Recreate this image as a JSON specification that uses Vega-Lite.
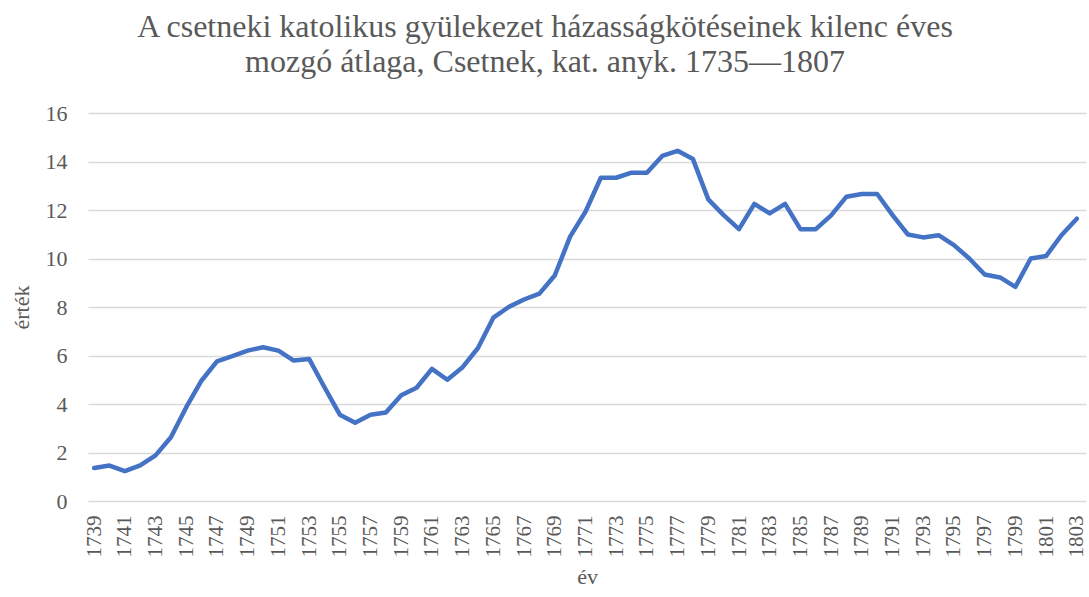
{
  "$schema": "https://vega.github.io/schema/vega-lite/v6.json",
  "autosize": {"type": "none"},
  "width": 998,
  "height": 388,
  "padding": {"left": 88, "top": 113, "right": 3, "bottom": 96},
  "background": "white",
  "title": {
    "text": ["A csetneki katolikus gyülekezet házasságkötéseinek kilenc éves", "mozgó átlaga, Csetnek, kat. anyk. 1735—1807"],
    "anchor": "middle",
    "dx": -42,
    "offset": 23,
    "font": "Liberation Serif",
    "fontSize": 32,
    "fontWeight": "normal",
    "color": "#595959",
    "lineHeight": 35
  },
  "config": {
    "view": {"stroke": null},
    "axis": {
      "labelFont": "Liberation Serif",
      "titleFont": "Liberation Serif",
      "labelColor": "#595959",
      "titleColor": "#595959",
      "labelFontSize": 22,
      "titleFontSize": 22,
      "titleFontWeight": "normal",
      "gridColor": "#D9D9D9",
      "gridWidth": 1.5,
      "ticks": false,
      "domain": false
    }
  },
  "data": {
    "values": [
      {"ev": 1739, "ertek": 1.36},
      {"ev": 1740, "ertek": 1.46},
      {"ev": 1741, "ertek": 1.23},
      {"ev": 1742, "ertek": 1.47},
      {"ev": 1743, "ertek": 1.88},
      {"ev": 1744, "ertek": 2.63},
      {"ev": 1745, "ertek": 3.87},
      {"ev": 1746, "ertek": 4.97},
      {"ev": 1747, "ertek": 5.76},
      {"ev": 1748, "ertek": 5.97},
      {"ev": 1749, "ertek": 6.2},
      {"ev": 1750, "ertek": 6.34},
      {"ev": 1751, "ertek": 6.2},
      {"ev": 1752, "ertek": 5.79},
      {"ev": 1753, "ertek": 5.86},
      {"ev": 1754, "ertek": 4.69},
      {"ev": 1755, "ertek": 3.56},
      {"ev": 1756, "ertek": 3.23},
      {"ev": 1757, "ertek": 3.56},
      {"ev": 1758, "ertek": 3.65},
      {"ev": 1759, "ertek": 4.36},
      {"ev": 1760, "ertek": 4.67},
      {"ev": 1761, "ertek": 5.45},
      {"ev": 1762, "ertek": 5.0},
      {"ev": 1763, "ertek": 5.52},
      {"ev": 1764, "ertek": 6.31},
      {"ev": 1765, "ertek": 7.56},
      {"ev": 1766, "ertek": 8.0},
      {"ev": 1767, "ertek": 8.31},
      {"ev": 1768, "ertek": 8.55},
      {"ev": 1769, "ertek": 9.3},
      {"ev": 1770, "ertek": 10.9},
      {"ev": 1771, "ertek": 11.93},
      {"ev": 1772, "ertek": 13.33},
      {"ev": 1773, "ertek": 13.33},
      {"ev": 1774, "ertek": 13.54},
      {"ev": 1775, "ertek": 13.54},
      {"ev": 1776, "ertek": 14.23},
      {"ev": 1777, "ertek": 14.44},
      {"ev": 1778, "ertek": 14.1},
      {"ev": 1779, "ertek": 12.44},
      {"ev": 1780, "ertek": 11.79},
      {"ev": 1781, "ertek": 11.21},
      {"ev": 1782, "ertek": 12.25},
      {"ev": 1783, "ertek": 11.86},
      {"ev": 1784, "ertek": 12.25},
      {"ev": 1785, "ertek": 11.21},
      {"ev": 1786, "ertek": 11.21},
      {"ev": 1787, "ertek": 11.78},
      {"ev": 1788, "ertek": 12.55},
      {"ev": 1789, "ertek": 12.66},
      {"ev": 1790, "ertek": 12.66},
      {"ev": 1791, "ertek": 11.79},
      {"ev": 1792, "ertek": 10.99},
      {"ev": 1793, "ertek": 10.87},
      {"ev": 1794, "ertek": 10.96},
      {"ev": 1795, "ertek": 10.55},
      {"ev": 1796, "ertek": 10.0},
      {"ev": 1797, "ertek": 9.34},
      {"ev": 1798, "ertek": 9.22},
      {"ev": 1799, "ertek": 8.83},
      {"ev": 1800, "ertek": 10.0},
      {"ev": 1801, "ertek": 10.1},
      {"ev": 1802, "ertek": 10.96},
      {"ev": 1803, "ertek": 11.64}
    ]
  },
  "mark": {"type": "line", "color": "#4472C4", "strokeWidth": 4.5, "strokeCap": "round", "strokeJoin": "round"},
  "encoding": {
    "x": {
      "field": "ev",
      "type": "quantitative",
      "title": "év",
      "scale": {"domain": [1738.6, 1803.6], "nice": false, "zero": false},
      "axis": {
        "values": [1739, 1741, 1743, 1745, 1747, 1749, 1751, 1753, 1755, 1757, 1759, 1761, 1763, 1765, 1767, 1769, 1771, 1773, 1775, 1777, 1779, 1781, 1783, 1785, 1787, 1789, 1791, 1793, 1795, 1797, 1799, 1801, 1803],
        "format": "d",
        "labelAngle": -90,
        "labelFontSize": 21,
        "labelPadding": 14,
        "labelOverlap": false,
        "labelBound": false,
        "labelFlush": false,
        "grid": false,
        "titlePadding": 9
      }
    },
    "y": {
      "field": "ertek",
      "type": "quantitative",
      "title": "érték",
      "scale": {"domain": [0, 16], "nice": false},
      "axis": {
        "values": [0, 2, 4, 6, 8, 10, 12, 14, 16],
        "labelPadding": 21,
        "titlePadding": 12,
        "grid": true
      }
    }
  }
}
